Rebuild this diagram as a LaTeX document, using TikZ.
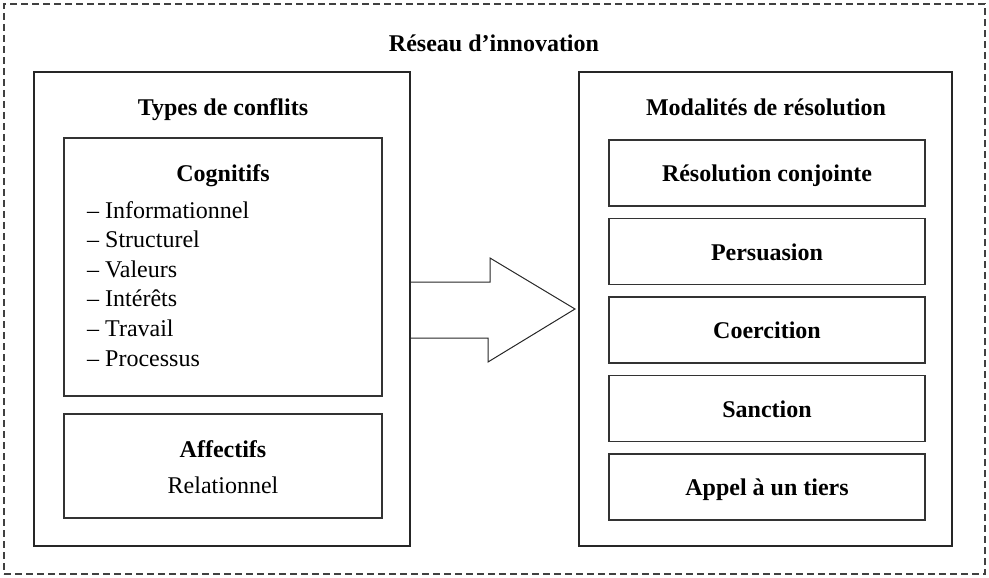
\documentclass[tikz,border=0pt]{standalone}
\usepackage{fontspec}
\setmainfont{Liberation Serif}
\usetikzlibrary{positioning}

\begin{document}
\fontsize{24}{29.6}\selectfont
\begin{tikzpicture}[x=1pt, y=-1pt,
    reseau/.style={rectangle, draw=black!75, line width=1.1pt,
        dash pattern=on 7pt off 4pt},
    bloc/.style={rectangle, draw=black!85, line width=2pt},
    cadre/.style={rectangle, draw=black!80, line width=1.2pt},
    modalite/.style={cadre, minimum width=316pt, minimum height=66pt,
        text height=17pt, text depth=0pt, font=\bfseries},
    titre/.style={anchor=base, font=\bfseries, inner sep=0pt},
    item/.style={anchor=base west, inner sep=0pt},
    fleche/.style={draw=black!85, line width=1pt, line join=miter}]

    \useasboundingbox (0,0) rectangle (989,578);

    \node[reseau, minimum width=981pt, minimum height=570pt] (reseau) at (494.5,289) {};
    \node[titre] (titre) at (494,52) {Réseau d’innovation};

    % conflits
    \node[bloc, minimum width=376pt, minimum height=474pt] (gauche) at (222,309) {};
    \node[titre] (types) at (223,116) {Types de conflits};

    \node[cadre, minimum width=318pt, minimum height=258pt] (cognitif) at (223,267) {};
    \node[titre] (cognitifs) at (223,181) {Cognitifs};
    \foreach \mot [count=\k from 0] in {Informationnel, Structurel, Valeurs, Intérêts, Travail, Processus}
        \node[item] (item\k) at (87,218+29.6*\k) {– \mot};

    \node[cadre, minimum width=318pt, minimum height=104pt] (affectif) at (223,466) {};
    \node[titre] (affectifs) at (223,457) {Affectifs};
    \node[titre, font=\normalfont] (relationnel) at (223,493) {Relationnel};

    % resolution
    \node[bloc, minimum width=373pt, minimum height=474pt] (droite) at (765.5,309) {};
    \node[titre] (modalites) at (766,116) {Modalités de résolution};

    \node[modalite] (conjointe) at (767,173) {Résolution conjointe};
    \node[modalite, below=11.3pt of conjointe] (persuasion) {Persuasion};
    \node[modalite, below=11.3pt of persuasion] (coercition) {Coercition};
    \node[modalite, below=11.3pt of coercition] (sanction) {Sanction};
    \node[modalite, below=11.3pt of sanction] (tiers) {Appel à un tiers};

    \draw[fleche] (gauche.east) ++(0,-27) -- ++(79,0) -- ++(0,-24)
        -- ([xshift=-3pt]droite.west) -- ++(-87,53) -- ++(0,-24) -- ++(-79,0);

\end{tikzpicture}
\end{document}
